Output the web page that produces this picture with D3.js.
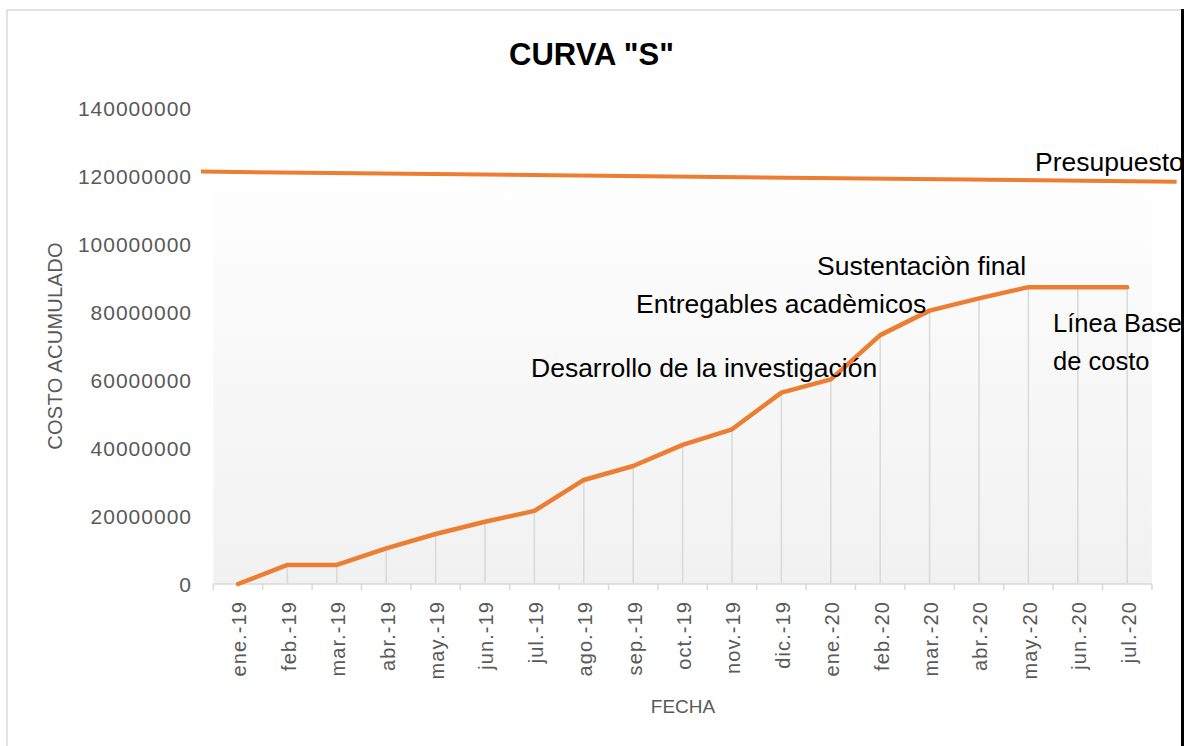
<!DOCTYPE html>
<html>
<head>
<meta charset="utf-8">
<script src="https://cdn.jsdelivr.net/npm/d3@7"></script>
<style>
  body { margin: 0; background: #ffffff; }
  text { font-family: "Liberation Sans", Arial, sans-serif; }
</style>
</head>
<body>
<div id="chart"></div>
<script>
// DATA
var months = ["ene.-19", "feb.-19", "mar.-19", "abr.-19", "may.-19", "jun.-19", "jul.-19",
              "ago.-19", "sep.-19", "oct.-19", "nov.-19", "dic.-19", "ene.-20", "feb.-20",
              "mar.-20", "abr.-20", "may.-20", "jun.-20", "jul.-20"];

var costo = [0, 5600000, 5600000, 10500000, 14700000, 18300000, 21500000,
             30600000, 34700000, 40900000, 45500000, 56300000, 60200000, 73200000,
             80400000, 84000000, 87300000, 87300000, 87300000];

var yTicks = [0, 20000000, 40000000, 60000000, 80000000, 100000000, 120000000, 140000000];

// budget line drawn across the whole chart (month index, value)
var presupuestoIdx = [-0.75, 19.0];
var presupuestoVal = [121300000, 118300000];

var notes = ["Presupuesto", "Sustentaciòn final", "Entregables acadèmicos",
             "Desarrollo de la investigación", "Línea Base", "de costo"];

// LAYOUT
var WIDTH = 1185;
var HEIGHT = 746;
var LEFT = 213.3, RIGHT = 1151.9;
var Y0 = 584, YTOP = 108;
var ORANGE = "#ed7d31";
var GRAY = "#d9d9d9";
var TEXTGRAY = "#595959";

var x = d3.scaleBand()
    .domain(months)
    .range([LEFT, RIGHT])
    .padding(0);
var bw = x.bandwidth();

var xi = d3.scaleLinear()
    .domain([0, months.length - 1])
    .range([x(months[0]) + bw / 2, x(months[months.length - 1]) + bw / 2]);

var y = d3.scaleLinear()
    .domain([0, 140000000])
    .range([Y0, YTOP]);

var svg = d3.select("#chart").append("svg")
    .attr("width", WIDTH)
    .attr("height", HEIGHT);

// plot area gradient
var grad = svg.append("defs").append("linearGradient")
    .attr("id", "plotfill")
    .attr("x1", 0).attr("y1", 0).attr("x2", 0).attr("y2", 1);
grad.append("stop").attr("offset", "0%").attr("stop-color", "#fefefe");
grad.append("stop").attr("offset", "100%").attr("stop-color", "#f1f1f1");

svg.append("rect")
    .attr("x", LEFT)
    .attr("y", 183)
    .attr("width", RIGHT - LEFT)
    .attr("height", Y0 - 183)
    .attr("fill", "url(#plotfill)");

// chart border (gray left/top, black right edge)
svg.append("line")
    .attr("x1", 7).attr("y1", 10).attr("x2", 7).attr("y2", HEIGHT)
    .attr("stroke", GRAY).attr("stroke-width", 1.5);
svg.append("line")
    .attr("x1", 7).attr("y1", 10).attr("x2", 1182).attr("y2", 10)
    .attr("stroke", GRAY).attr("stroke-width", 1.5);

// title
svg.append("text")
    .attr("x", 591.5)
    .attr("y", 65)
    .attr("text-anchor", "middle")
    .attr("font-size", "31px")
    .attr("font-weight", "bold")
    .attr("fill", "#000000")
    .text('CURVA "S"');

// y tick labels
svg.selectAll(".ytick")
    .data(yTicks)
    .enter()
    .append("text")
    .attr("class", "ytick")
    .attr("x", 192)
    .attr("y", d => y(d))
    .attr("dy", "0.36em")
    .attr("text-anchor", "end")
    .attr("font-size", "21px")
    .attr("letter-spacing", "1px")
    .attr("fill", TEXTGRAY)
    .text(d => d);

// y axis title
svg.append("text")
    .attr("transform", "translate(62," + 346 + ") rotate(-90)")
    .attr("text-anchor", "middle")
    .attr("font-size", "20px")
    .attr("letter-spacing", "0.3px")
    .attr("fill", TEXTGRAY)
    .text("COSTO ACUMULADO");

// drop lines
svg.selectAll(".drop")
    .data(costo)
    .enter()
    .append("line")
    .attr("class", "drop")
    .attr("x1", (d, i) => x(months[i]) + bw / 2)
    .attr("x2", (d, i) => x(months[i]) + bw / 2)
    .attr("y1", d => y(d))
    .attr("y2", Y0)
    .attr("stroke", GRAY)
    .attr("stroke-width", 1.5);

// x axis line and tick marks at the band edges
svg.append("line")
    .attr("x1", LEFT).attr("x2", RIGHT)
    .attr("y1", Y0).attr("y2", Y0)
    .attr("stroke", GRAY).attr("stroke-width", 1.5);

svg.selectAll(".xtick")
    .data(d3.range(months.length + 1))
    .enter()
    .append("line")
    .attr("class", "xtick")
    .attr("x1", i => LEFT + i * bw)
    .attr("x2", i => LEFT + i * bw)
    .attr("y1", Y0)
    .attr("y2", Y0 + 6)
    .attr("stroke", GRAY)
    .attr("stroke-width", 1.5);

// x tick labels
svg.selectAll(".xlabel")
    .data(months)
    .enter()
    .append("text")
    .attr("class", "xlabel")
    .attr("transform", d => "translate(" + (x(d) + bw / 2) + "," + 601 + ") rotate(-90)")
    .attr("dy", "0.42em")
    .attr("text-anchor", "end")
    .attr("font-size", "20px")
    .attr("letter-spacing", "1.1px")
    .attr("fill", TEXTGRAY)
    .text(d => d);

// x axis title
svg.append("text")
    .attr("x", 683)
    .attr("y", 713)
    .attr("text-anchor", "middle")
    .attr("font-size", "19px")
    .attr("fill", TEXTGRAY)
    .text("FECHA");

// budget line
var budget = presupuestoIdx.map((d, i) => [d, presupuestoVal[i]]);
svg.append("path")
    .datum(budget)
    .attr("d", d3.line().x(d => xi(d[0])).y(d => y(d[1])))
    .attr("fill", "none")
    .attr("stroke", ORANGE)
    .attr("stroke-width", 4);

// cost baseline curve
svg.append("path")
    .datum(costo)
    .attr("d", d3.line().x((d, i) => x(months[i]) + bw / 2).y(d => y(d)))
    .attr("fill", "none")
    .attr("stroke", ORANGE)
    .attr("stroke-width", 4.5)
    .attr("stroke-linejoin", "round")
    .attr("stroke-linecap", "round");

// annotations
var notePos = [[1035, 171], [817, 275], [636, 313], [531, 377], [1053, 332], [1053, 370]];
var noteSize = [26.5, 26.5, 26.5, 26.5, 25.5, 25.5];
svg.selectAll(".note")
    .data(notes)
    .enter()
    .append("text")
    .attr("class", "note")
    .attr("x", (d, i) => notePos[i][0])
    .attr("y", (d, i) => notePos[i][1])
    .attr("font-size", (d, i) => noteSize[i] + "px")
    .attr("fill", "#000000")
    .text(d => d);

// right edge: white cover then black border
svg.append("rect")
    .attr("x", 1183).attr("y", 0)
    .attr("width", 10).attr("height", HEIGHT)
    .attr("fill", "#ffffff");
svg.append("line")
    .attr("x1", 1182.5).attr("y1", 9).attr("x2", 1182.5).attr("y2", HEIGHT)
    .attr("stroke", "#000000").attr("stroke-width", 3);
</script>
</body>
</html>
